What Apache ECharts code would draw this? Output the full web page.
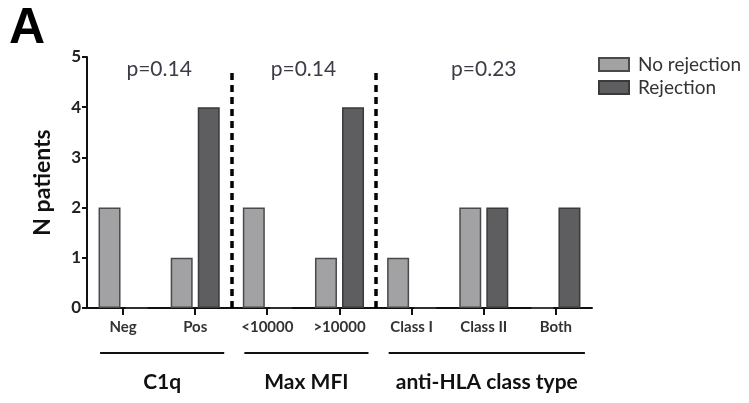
<!DOCTYPE html>
<html>
<head>
<meta charset="utf-8">
<script src="https://cdn.jsdelivr.net/npm/echarts@6/dist/echarts.min.js"></script>
<style>
  html, body { margin: 0; padding: 0; background: #fff; }
  #chart { width: 749px; height: 403px; }
</style>
</head>
<body>
<div id="chart"></div>
<script>
// Categories along the x axis
const categories = ['Neg', 'Pos', '<10000', '>10000', 'Class I', 'Class II', 'Both'];
// Patient counts per category
const noRejection = [2, 1, 2, 1, 1, 2, 0];
const rejection = [0, 4, 0, 4, 0, 2, 2];
// Groups of categories: [first index, last index], name, p-value
const groupNames = ['C1q', 'Max MFI', 'anti-HLA class type'];
const groupRanges = [[0, 1], [2, 3], [4, 6]];
const groupPValues = ['p=0.14', 'p=0.14', 'p=0.23'];
// Separators between groups (in category index units)
const separators = [1.5, 3.5];
const yTicks = [0, 1, 2, 3, 4, 5];

const FONT = 'Lato, "Open Sans", sans-serif';
const chart = echarts.init(document.getElementById('chart'));

const option = {
  animation: false,
  grid: { left: 87, right: 157, top: 57, bottom: 95, containLabel: false },
  legend: {
    orient: 'vertical',
    left: 593,
    top: 50,
    icon: 'rect',
    itemWidth: 30,
    itemHeight: 13,
    itemGap: 4,
    textStyle: { fontFamily: FONT, fontSize: 19, color: '#333', padding: [0, 0, 0, 4] },
    data: ['No rejection', 'Rejection']
  },
  xAxis: [
    {
      type: 'category',
      data: categories,
      axisLine: { show: true, onZero: false, lineStyle: { color: '#111', width: 2 } },
      axisTick: { show: false },
      axisLabel: { fontFamily: FONT, fontWeight: 'bold', fontSize: 15, color: '#333', margin: 12 }
    },
    {
      // index scale over the same width, used to place separators and annotations
      type: 'value',
      min: -0.5,
      max: categories.length - 0.5,
      show: false
    }
  ],
  yAxis: {
    type: 'value',
    min: yTicks[0],
    max: yTicks[yTicks.length - 1],
    interval: 1,
    name: 'N patients',
    nameLocation: 'middle',
    nameRotate: 90,
    nameGap: 33,
    nameTextStyle: { fontFamily: FONT, fontWeight: 'bold', fontSize: 23, color: '#111' },
    splitLine: { show: false },
    axisLine: { show: true, onZero: false, lineStyle: { color: '#111', width: 2 } },
    axisTick: { show: true, length: 5, lineStyle: { color: '#111', width: 2 } },
    axisLabel: { fontFamily: FONT, fontWeight: 'bold', fontSize: 17, color: '#222', margin: 6 }
  },
  series: [
    {
      name: 'No rejection',
      type: 'bar',
      data: noRejection,
      barWidth: 22,
      barGap: '23%',
      itemStyle: { color: '#a2a2a4', borderColor: '#4a4a4a', borderWidth: 1.5 }
    },
    {
      name: 'Rejection',
      type: 'bar',
      data: rejection,
      barWidth: 22,
      itemStyle: { color: '#5e5e60', borderColor: '#3a3a3a', borderWidth: 1.5 }
    },
    {
      name: 'separators',
      type: 'line',
      xAxisIndex: 1,
      data: [],
      silent: true,
      markLine: {
        symbol: ['none', 'none'],
        silent: true,
        label: { show: false },
        lineStyle: { color: '#000', width: 3.5, type: [7, 5] },
        data: separators.map(x => [{ coord: [x, 0] }, { coord: [x, 4.72] }])
      }
    }
  ],
  graphic: [
    {
      type: 'text',
      left: 9,
      top: 4,
      style: { text: 'A', font: 'bold 50px "Liberation Sans", Arial, sans-serif', fill: '#000' }
    }
  ]
};

chart.setOption(option);

const toPx = (x, y) => chart.convertToPixel({ xAxisIndex: 1, yAxisIndex: 0 }, [x, y]);
const extra = [];

// Tick marks under each category centre
categories.forEach((c, i) => {
  const p = toPx(i, 0);
  extra.push({
    type: 'rect',
    z: 10,
    shape: { x: Math.round(p[0]) - 1, y: Math.round(p[1]), width: 2, height: 7 },
    style: { fill: '#111' }
  });
});

// Group annotations: p-values, underlines and group titles
groupRanges.forEach((r, i) => {
  const x0 = toPx(r[0], 0)[0];
  const x1 = toPx(r[1], 0)[0];
  const cx = (x0 + x1) / 2;
  const yP = toPx(0, 4.75)[1];
  extra.push({
    type: 'text',
    x: cx, y: yP,
    style: { text: groupPValues[i], font: '21px ' + FONT, fill: '#3c3c48', align: 'center', verticalAlign: 'middle' }
  });
  extra.push({
    type: 'line',
    shape: { x1: x0 - 23, y1: 353, x2: x1 + 29, y2: 353 },
    style: { stroke: '#111', lineWidth: 2 }
  });
  extra.push({
    type: 'text',
    x: cx + 3, y: 382,
    style: { text: groupNames[i], font: 'bold 21px ' + FONT, fill: '#111', align: 'center', verticalAlign: 'middle' }
  });
});
chart.setOption({ graphic: option.graphic.concat(extra) });
</script>
</body>
</html>
